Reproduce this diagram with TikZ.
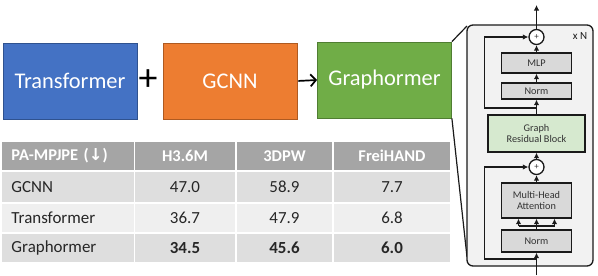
\documentclass[tikz,border=0pt]{standalone}
\usepackage{fontspec}
\setmainfont{Carlito}
\newfontfamily\dejavu{DejaVu Sans}
\usetikzlibrary{arrows.meta}
\definecolor{cblue}{HTML}{4472C4}
\definecolor{cblueb}{HTML}{2F528F}
\definecolor{corange}{HTML}{ED7D31}
\definecolor{coranged}{HTML}{AE5A21}
\definecolor{cgreen}{HTML}{70AD47}
\definecolor{cgreend}{HTML}{507E32}
\definecolor{thead}{HTML}{A5A5A5}
\definecolor{trowa}{HTML}{DEDEDE}
\definecolor{trowb}{HTML}{EFEFEF}
\definecolor{panelfill}{HTML}{F2F2F2}
\definecolor{innerfill}{HTML}{D9D9D9}
\definecolor{grbfill}{HTML}{D6E9CF}
\definecolor{inkc}{HTML}{1A1A1A}
\definecolor{txtc}{HTML}{262626}
\definecolor{ptxt}{HTML}{333333}
\begin{document}
\begin{tikzpicture}[x=1bp,y=-1bp,
  bigbox/.style={draw, line width=0.8bp, minimum width=134bp, minimum height=76bp, inner sep=0pt,
    text=white, font=\fontsize{22.5}{26}\selectfont},
  cell/.style={inner sep=0pt, minimum height=#1, anchor=center, text=txtc,
    font=\fontsize{17}{20}\selectfont},
  hcell/.style={cell=#1, text=white, font=\bfseries\fontsize{16.5}{20}\selectfont},
  lcell/.style={align=left, text width=113bp, inner xsep=9bp},
  pbox/.style={draw=inkc, line width=1.4bp, fill=innerfill, inner sep=0pt, text=ptxt,
    font=\fontsize{10.3}{11.8}\selectfont, align=center},
  psum/.style={circle, draw=inkc, line width=1.3bp, fill=white, minimum size=15bp, inner sep=0pt,
    font=\fontsize{9}{9}\selectfont, text=ptxt},
  arr/.style={draw=inkc, line width=1.7bp, -{Latex[length=5.5bp,width=5.5bp]}},
  pline/.style={draw=inkc, line width=1.7bp}
]
\useasboundingbox (0,0) rectangle (598,275);

% top row of boxes
\node[bigbox, fill=cblue, draw=cblueb] (tr) at (70,81) {Transformer};
\node[bigbox, fill=corange, draw=coranged] (gc) at (230,81) {GCNN};
\node[bigbox, fill=cgreen, draw=cgreend] (gr) at (384.5,80) {Graphormer};
\node[inner sep=0pt, font=\fontsize{38}{38}\selectfont] (plus) at (148,80) {+};
\draw[line width=1.7bp, shorten <=1bp, -{Straight Barb[length=5.5bp,width=12bp]}] (gc.east) -- (gr.west);

% zoom lines
\coordinate (zt) at (467,26);
\coordinate (zb) at (467,257);
\draw[line width=1.2bp, inkc] (gr.north east) -- (zt);
\draw[line width=1.2bp, inkc] (gr.south east) -- (zb);

% table
\node[hcell=28bp, fill=thead, lcell] (h0) at (68,156) {PA-MPJPE ({\dejavu\bfseries ↓})};
\node[hcell=28bp, fill=thead, minimum width=100bp] (h1) at (185,156) {H3.6M};
\node[hcell=28bp, fill=thead, minimum width=95bp] (h2) at (284.5,156) {3DPW};
\node[hcell=28bp, fill=thead, minimum width=116bp] (h3) at (392,156) {FreiHAND};

\node[cell=30bp, fill=trowa, lcell] (a0) at (68,187) {GCNN};
\node[cell=30bp, fill=trowa, minimum width=100bp] (a1) at (185,187) {47.0};
\node[cell=30bp, fill=trowa, minimum width=95bp] (a2) at (284.5,187) {58.9};
\node[cell=30bp, fill=trowa, minimum width=116bp] (a3) at (392,187) {7.7};

\node[cell=28bp, fill=trowb, lcell] (b0) at (68,218) {Transformer};
\node[cell=28bp, fill=trowb, minimum width=100bp] (b1) at (185,218) {36.7};
\node[cell=28bp, fill=trowb, minimum width=95bp] (b2) at (284.5,218) {47.9};
\node[cell=28bp, fill=trowb, minimum width=116bp] (b3) at (392,218) {6.8};

\node[cell=28bp, fill=trowa, lcell] (c0) at (68,248) {Graphormer};
\node[cell=28bp, fill=trowa, minimum width=100bp, font=\bfseries\fontsize{17}{20}\selectfont] (c1) at (185,248) {34.5};
\node[cell=28bp, fill=trowa, minimum width=95bp, font=\bfseries\fontsize{17}{20}\selectfont] (c2) at (284.5,248) {45.6};
\node[cell=28bp, fill=trowa, minimum width=116bp, font=\bfseries\fontsize{17}{20}\selectfont] (c3) at (392,248) {6.0};

% panel
\node[draw=inkc, line width=1.3bp, fill=panelfill, rounded corners=6bp,
  minimum width=126bp, minimum height=241bp, inner sep=0pt] (panel) at (530,145.5) {};
\node[font=\fontsize{11}{12}\selectfont, text=inkc] (xn) at (580,36) {x N};

\node[psum] (p1) at (536.5,37) {+};
\node[pbox, minimum width=70bp, minimum height=20bp] (mlp) at (536.5,63) {MLP};
\node[pbox, minimum width=70bp, minimum height=16bp] (n1) at (536.5,91) {Norm};
\node[pbox, fill=grbfill, minimum width=97bp, minimum height=37bp] (grb) at (536.5,133.5) {Graph\\Residual Block};
\node[psum] (p2) at (536.5,167) {+};
\node[pbox, minimum width=70bp, minimum height=35bp] (mha) at (536.5,200.5) {Multi-Head\\Attention};
\node[pbox, minimum width=70bp, minimum height=22bp] (n2) at (536.5,241) {Norm};

\coordinate (out) at (536.5,5);
\coordinate (s1) at (536.5,108);
\coordinate (s1l) at (484.5,108);
\coordinate (s2) at (536.5,259);
\coordinate (s2l) at (484.5,259);
\coordinate (in) at (536.5,275);
\coordinate (br) at (536.5,226);
\coordinate (bl) at (518.5,226);
\coordinate (brr) at (554.5,226);

\draw[arr] (p1.north) -- (out);
\draw[arr] (mlp.north) -- (p1.south);
\draw[arr] (n1.north) -- (mlp.south);
\draw[arr] (grb.north) -- (n1.south);
\draw[arr] (s1) -- (s1l) |- (p1.west);
\draw[arr] (p2.north) -- (grb.south);
\draw[arr] (mha.north) -- (p2.south);
\draw[pline] (n2.north) -- (br);
\draw[pline] (bl) -- (brr);
\draw[arr] (bl) -- (bl |- mha.south);
\draw[arr] (br) -- (mha.south);
\draw[arr] (brr) -- (brr |- mha.south);
\draw[arr] (s2) -- (s2l) |- (p2.west);
\draw[arr] (in) -- (n2.south);
\end{tikzpicture}
\end{document}
